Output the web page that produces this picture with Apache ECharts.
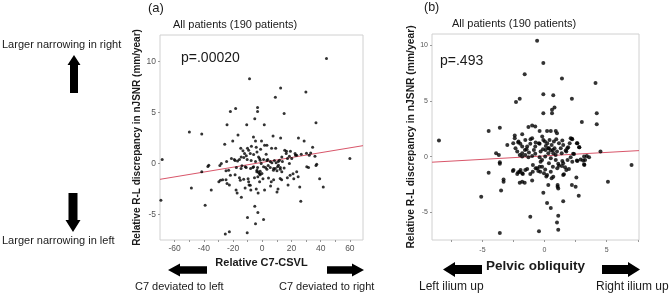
<!DOCTYPE html>
<html>
<head>
<meta charset="utf-8">
<script src="https://cdn.jsdelivr.net/npm/echarts@6/dist/echarts.min.js"></script>
<style>html,body{margin:0;padding:0;background:#fff;}#c{width:669px;height:295px;}</style>
</head>
<body>
<div id="c"></div>
<script>
// ---------- data ----------
const ticksAX = [-60, -40, -20, 0, 20, 40, 60];
const ticksAY = [-5, 0, 5, 10];
const ticksBX = [-5, 0, 5];
const ticksBY = [-5, 0, 5, 10];

// Panel (a): Relative C7-CSVL vs relative R-L discrepancy
const scatterA = [
[44,10.3],[-8.7,8.3],[12.6,7.4],[29.9,7.0],[9.0,6.5],
[-3.2,5.5],[-3.2,5.1],[-18.2,5.4],[-21.8,5.1],[15,4.9],[-5.1,4.4],
[-24.1,3.8],[-10.6,3.8],[1.4,3.8],[36.8,4.0],[-49.9,3.1],[-41.4,2.9],
[-16.6,2.8],[-25.7,1.9],[-20.2,2.2],[-6,2.6],[-4.6,2.2],[-0.5,2.2],[7.4,2.7],[12.6,2.5],[24.8,2.5],[28.7,2.2],[34.5,1.6],
[1.6,1.8],[3.2,1.8],[-14.7,1.5],[-10.1,1.5],[-7.4,1.7],[-4.1,1.6],[-1.1,1.4],[6.4,1.5],[9.2,1.5],[15.4,1.3],[16.6,1.2],[19.3,1.2],[22.8,0.8],[26.7,0.9],[30.3,1.0],[32.2,0.8],[36.1,0.7],[60,0.5],[-68.5,0.4],
[-21.1,0.5],[-18.6,0.3],[-15.6,0.4],[-12.6,0.6],[-10.3,0.4],[-7.6,0.3],[-4.6,0.2],[-1.8,0.5],[0.9,0.4],[3.2,0.3],[5.5,0.2],[8.3,0.3],[11,0.2],[13.8,0.2],[-24.4,0.2],
[-19.1,0.39],[-16.9,0.24],[-14.4,0.65],[-13.2,1.24],[-12.1,0.97],[-10.9,0.75],[-9.3,1.3],[-8.2,0.97],[-5.9,0.88],[-3.6,1.14],[-2.5,0.65],[-1.4,0.33],[-0.7,0.0],[2.7,0.91],[3.8,0.39],[6.6,0.07],[9.5,0.07],[11.1,-0.16],[11.8,0.33],[13.4,0.65],[16.4,0.97],[17.3,0.49],[18.6,0.72],[20.2,0.49],[22.5,0.97],[23.6,0.82],[33.2,1.04],[37.3,-0.07],[30.5,-0.33],[18.6,0.0],[-36.6,-0.16],[-28,0.0],
[-29,-0.2],[-24.8,-0.7],[-17.7,-0.4],[-14.5,-0.5],[-11,-0.4],[-8,-0.5],[-6.4,-0.4],[-3.2,-0.4],[-3.7,-0.8],[-1.8,-1.0],[-3,-1.3],[-1.4,-1.1],[2.3,-0.4],[4.1,-0.2],[5.5,-0.4],[7.8,-0.5],[10.1,-0.7],[12.4,-0.4],[31.7,-0.4],[-41.4,-0.8],[-37.2,-0.3],[36.8,-0.2],[21.1,-1.0],[24.6,-1.3],[21.6,-1.5],[17.2,-1.4],[13.3,-1.6],[7.8,-1.6],[6.2,-1.8],[0.5,-1.5],[-5.3,-1.4],[-9.7,-1.5],[-15.6,-1.4],[-18.6,-1.1],[-24.8,-1.6],[-27.1,-1.6],[-29.7,-1.8],[-48.5,-2.4],[-34.9,-2.6],[-22.5,-2.1],[-17.9,-2.6],[-17.2,-2.9],[-14.3,-3.3],[-11.7,-2.4],[-9,-2.1],[-7.8,-2.6],[-4.1,-2.5],[-2.8,-2.9],[1.6,-2.6],[5.7,-2.2],[10.1,-2.8],[10.8,-2.5],[17.7,-2.1],[25.7,-2.3],[39.3,-1.5],[41.8,-2.3],[26.4,-3.7],[-69.4,-3.6],[-39.1,-4.1],[-5.1,-4.2],[-3,-4.8],[-10.1,-5.3],[0.9,-5.5],[-4.6,-5.9],[-22.5,-6.7],[-25.3,-6.9],[-10.3,-6.8],
[-3.6,-0.66],[-2.5,-0.89],[-1.4,-0.75],[-0.2,-0.98],[0.9,-0.33],[3.2,-0.56],[7.7,-0.66],[8.9,-0.49],[10.5,-0.33],[12.3,-0.56],[13.4,-0.82],[15,-0.43],[-11.6,-0.33],[-13.9,-0.23],[-5.9,-0.33],[-23,-0.66],[-28.6,-1.64],[-24.1,-1.96],[-21.8,-1.15],[-15,-1.64],[-12.7,-1.54],[-9.3,-1.8],[-8.2,-2.13],[-1.8,-1.8],[4.3,-1.41],[12.3,-1.47],[19.1,-1.15],[23.6,-0.82]
];
const fitA = [[-70,-1.55],[69,1.75]];

// Panel (b): Pelvic obliquity vs relative R-L discrepancy
const scatterB = [
[-0.6,10.4],[-0.1,8.4],[-1.6,7.4],[1.4,7.0],[4.1,6.6],[-2.3,4.9],[-2.0,5.2],[-0.1,5.6],[0.7,5.5],[2.2,5.2],[0.8,4.4],[0.6,4.2],[0.6,3.9],[-0.1,3.9],[4.2,3.9],[4.2,2.9],[3.0,3.1],
[-4.5,2.3],[-3.6,2.6],[-3.0,1.05],[-1.3,2.65],[-1.0,2.8],[-0.75,2.7],[-2.4,1.9],[-2.4,1.65],[-1.8,2.0],[-1.0,1.65],[-0.4,2.3],[0.2,2.3],[0.5,2.3],[0.9,2.3],[1.0,2.1],[2.1,1.65],[2.2,1.6],[2.6,1.2],[2.8,0.85],[4.5,0.45],[7.0,-0.75],[5.1,-2.25],
[-2.1,1.35],[-1.95,1.15],[-1.55,1.5],[-1.4,0.9],[-1.15,1.15],[-0.75,0.9],[-0.4,1.15],[-0.1,1.5],[0.1,0.95],[0.3,0.75],[0.5,0.55],[0.7,0.3],[0.8,0.75],[1.0,0.45],[1.3,0.75],[1.5,1.05],[1.75,0.45],[1.9,0.85],[2.3,0.25],[2.6,-0.35],[2.9,-0.25],[3.1,-0.35],[3.2,-0.75],[3.4,0.05],
[-2.2,0.45],[-2.0,0.15],[-1.8,0],[-1.55,0.15],[-1.3,-0.05],[-1.0,0.05],[-0.75,0.25],[-0.4,-0.05],[-0.2,-0.3],[0.05,0],[0.3,0.3],[0.5,-0.15],[0.9,-0.3],[1.1,-0.65],[1.4,-0.85],[1.5,-0.6],[1.65,-0.95],[1.85,-0.3],[2.1,-0.05],
[-2.5,-1.2],[-2.2,-1.55],[-2.0,-1.35],[-1.75,-1.55],[-1.55,-1.2],[-1.15,-1.55],[-0.95,-1.35],[-0.6,-1.05],[-0.35,-1.35],[-0.2,-0.9],[0.05,-1.15],[0.2,-1.65],[0.5,-1.35],[0.7,-1.8],[1.5,-1.65],
[-3.6,-0.65],[-3.6,-0.5],[-4.5,-1.45],[-3.3,-2.05],[-3.3,-2.25],[-3.5,-3.05],[-2.0,-2.35],[-1.8,-2.25],[-1.6,-2.35],[-1.0,-2.15],[0.3,-2.55],[1.05,-2.55],[1.1,-2.85],[1.05,-2.7],[-0.1,-3.25],[2.2,-2.55],[2.5,-2.7],[2.75,-3.5],[1.5,-4.0],[0.2,-4.15],[0.5,-4.6],[1.1,-5.3],[-1.15,-5.4],[1.0,-5.9],[1.1,-6.55],[-3.6,-6.85],[-0.45,-6.7],[-5.1,-3.6],[-8.5,1.45],
[-2.52,1.2],[-2.12,1.26],[-1.8,0.9],[-1.45,0.66],[-1.13,1.56],[-0.72,1.26],[-0.46,1.2],[-0.19,1.8],[0.03,1.35],[0.22,1.2],[0.4,1.5],[0.57,1.05],[0.75,1.35],[0.94,1.56],[1.16,1.2],[1.43,1.44],[2.23,1.56],[1.83,0.75],[2.02,1.2],[2.64,1.2],[2.78,0.84],[3.18,0.0],[3.58,-0.06],
[-2.34,0.75],[-1.8,0.3],[-1.58,0.6],[-1.26,0.36],[-0.86,0.6],[-0.32,0.45],[-0.13,0.66],[0.08,0.6],[0.35,0.75],[0.67,0.6],[0.89,0.15],[1.38,0.3],[1.7,0.54],[2.37,0.24],[-3.9,0.3],[-3.68,0.15],
[-2.55,-1.29],[-2.12,-1.41],[-1.93,-1.2],[-1.8,-1.5],[-1.4,-1.11],[-0.94,-0.75],[-0.72,-1.05],[-0.51,-1.29],[-0.4,-0.9],[-0.32,-0.45],[-0.05,-1.5],[0.14,-1.79],[0.35,-0.6],[0.57,-1.94],[0.67,-0.9],[1.02,-1.05],[1.16,-0.81],[1.43,-0.39],[1.75,-1.2],[1.96,-1.11],[2.23,-0.45],[2.64,-0.39],[3.18,-0.69],[3.26,-0.3],[1.56,-1.58],[2.56,-1.88]
];
const fitB = [[-9.06,-0.5],[7.6,0.54]];

const yName = 'Relative R-L discrepancy in nJSNR (mm/year)';

// ---------- chart ----------
const FF = 'Liberation Sans, Arial, sans-serif';
const chart = echarts.init(document.getElementById('c'), null, {renderer: 'canvas'});

function txt(text, x, y, size, opts) {
  return Object.assign({
    type: 'text', x: x, y: y,
    style: {text: text, fontSize: size, fontFamily: FF, fill: '#1a1a1a',
            textAlign: 'left', textVerticalAlign: 'middle'}
  }, opts || {});
}
function vArrow(cx, yTip, yEnd, headW, headL, shaftW) {
  const d = yEnd > yTip ? 1 : -1;
  const yb = yTip + d * headL;
  return {type: 'polygon', shape: {points: [
    [cx, yTip], [cx + headW / 2, yb], [cx + shaftW / 2, yb], [cx + shaftW / 2, yEnd],
    [cx - shaftW / 2, yEnd], [cx - shaftW / 2, yb], [cx - headW / 2, yb]]},
    style: {fill: '#000'}};
}
function hArrow(cy, xTip, xEnd, headH, headL, shaftH) {
  const d = xEnd > xTip ? 1 : -1;
  const xb = xTip + d * headL;
  return {type: 'polygon', shape: {points: [
    [xTip, cy], [xb, cy - headH / 2], [xb, cy - shaftH / 2], [xEnd, cy - shaftH / 2],
    [xEnd, cy + shaftH / 2], [xb, cy + shaftH / 2], [xb, cy + headH / 2]]},
    style: {fill: '#000'}};
}

function valueAxis(gi, min, max, labels, ticks, fs, margin, extra) {
  return Object.assign({
    type: 'value', gridIndex: gi, min: min, max: max,
    axisLine: {show: false, onZero: false},
    axisTick: {show: true, inside: false, length: 2, lineStyle: {color: '#999'}, customValues: ticks},
    axisLabel: {customValues: labels, fontSize: fs, color: '#555', fontFamily: FF, margin: margin},
    splitLine: {show: false}
  }, extra || {});
}

const option = {
  animation: false,
  backgroundColor: '#fff',
  grid: [
    {left: 160, top: 35, width: 203, height: 205, show: true, borderColor: '#d0d0d0', borderWidth: 1, backgroundColor: '#fff'},
    {left: 432, top: 34, width: 207, height: 206, show: true, borderColor: '#d0d0d0', borderWidth: 1, backgroundColor: '#fff'}
  ],
  xAxis: [
    valueAxis(0, -70, 69, ticksAX, [-60,-50,-40,-30,-20,-10,0,10,20,30,40,50,60], 8.5, 4, {
      position: 'bottom',
      name: 'Relative C7-CSVL', nameLocation: 'middle', nameGap: 17,
      nameTextStyle: {fontSize: 11, fontWeight: 'bold', color: '#1a1a1a', fontFamily: FF}
    }),
    valueAxis(1, -9.06, 7.6, ticksBX, [-7.5,-5,-2.5,0,2.5,5,7.5], 7, 7, {
      position: 'bottom',
      name: 'Pelvic obliquity', nameLocation: 'middle', nameGap: 19,
      nameTextStyle: {fontSize: 13.5, fontWeight: 'bold', color: '#1a1a1a', fontFamily: FF}
    })
  ],
  yAxis: [
    valueAxis(0, -7.5, 12.6, ticksAY, ticksAY, 8.5, 4, {
      position: 'left',
      name: yName, nameLocation: 'middle', nameGap: 13,
      nameTextStyle: {fontSize: 10, fontWeight: 'bold', color: '#1a1a1a', fontFamily: FF}
    }),
    valueAxis(1, -7.48, 11.0, ticksBY, ticksBY, 7, 4, {
      position: 'left',
      name: yName, nameLocation: 'middle', nameGap: 15,
      nameTextStyle: {fontSize: 10.3, fontWeight: 'bold', color: '#1a1a1a', fontFamily: FF}
    })
  ],
  series: [
    {type: 'scatter', xAxisIndex: 0, yAxisIndex: 0, data: scatterA, symbolSize: 3,
     itemStyle: {color: '#000'}, silent: true},
    {type: 'line', xAxisIndex: 0, yAxisIndex: 0, data: fitA, symbol: 'none',
     lineStyle: {color: '#d9566a', width: 1}, z: 1, silent: true},
    {type: 'scatter', xAxisIndex: 1, yAxisIndex: 1, data: scatterB, symbolSize: 4,
     itemStyle: {color: '#000'}, silent: true},
    {type: 'line', xAxisIndex: 1, yAxisIndex: 1, data: fitB, symbol: 'none',
     lineStyle: {color: '#d9566a', width: 1}, z: 1, silent: true}
  ],
  graphic: [
    txt('(a)', 148, 8, 13),
    txt('All patients (190 patients)', 173, 25, 11),
    txt('p=.00020', 181, 58, 14),
    txt('(b)', 424, 8, 12.5),
    txt('All patients (190 patients)', 452, 24, 11),
    txt('p=.493', 440, 61, 14),
    txt('Larger narrowing in right', 2, 45, 11),
    txt('Larger narrowing in left', 2, 241, 11),
    vArrow(74, 55, 93, 13, 10, 8),
    vArrow(73, 232, 193, 15, 12, 9),
    txt('C7 deviated to left', 135, 287, 11),
    txt('C7 deviated to right', 279, 287, 11),
    hArrow(270, 168, 207, 13, 12, 7.5),
    hArrow(270, 364, 327, 13, 12, 7.5),
    txt('Left ilium up', 419, 287, 12),
    txt('Right ilium up', 596, 287, 12),
    hArrow(269.5, 443, 482, 15, 12, 9),
    hArrow(269.5, 640, 602, 15, 12, 9)
  ]
};
chart.setOption(option);
</script>
</body>
</html>
